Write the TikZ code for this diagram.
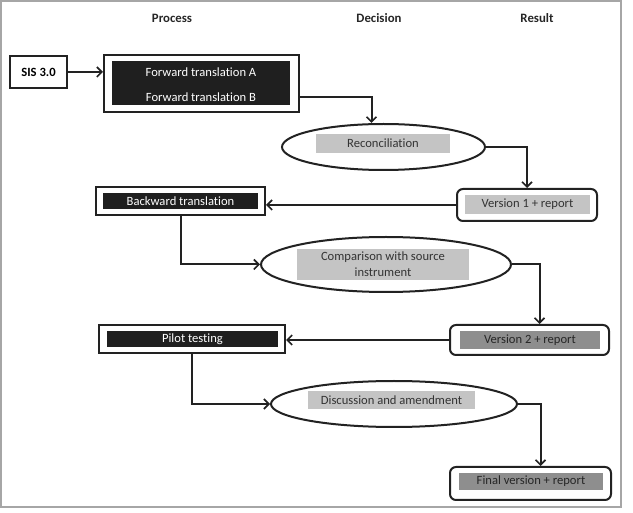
\documentclass[tikz,border=0pt]{standalone}
\usepackage{fontspec}
\setmainfont{Carlito}[Ligatures=NoCommon]
\usetikzlibrary{arrows.meta,shapes.geometric,calc}
\definecolor{lightg}{HTML}{C4C4C4}
\definecolor{darkg}{HTML}{8E8E8E}
\definecolor{linec}{HTML}{222222}
\tikzset{
  txt/.style={font=\fontsize{12.6}{14}\selectfont},
  outerbox/.style={draw=linec,line width=2pt,fill=white,inner sep=0pt},
  blackbar/.style={fill=black!88,text=white,inner sep=0pt,txt},
  graybar/.style={fill=lightg,text=black!80,inner sep=0pt,txt,align=center},
  dgraybar/.style={fill=darkg,text=black!85,inner sep=0pt,txt},
  oval/.style={ellipse,draw=linec,line width=2pt,fill=white,inner sep=0pt},
  rbox/.style={draw=linec,line width=2pt,rounded corners=6pt,fill=white,inner sep=0pt},
  arr/.style={draw=linec,line width=2pt,-{Straight Barb[length=5pt,width=10pt,line width=1.6pt]}},
  head/.style={font=\bfseries\fontsize{12.8}{14}\selectfont,text=black!85}
}
\begin{document}
\begin{tikzpicture}[x=1pt,y=-1pt]
\useasboundingbox (0,0) rectangle (633,513);
\draw[gray!70,line width=1.2pt] (1,1) rectangle (621,507);
% headers
\node[head] (h1) at (172,18) {Process};
\node[head] (h2) at (379,18) {Decision};
\node[head] (h3) at (537,18) {Result};
% SIS
\node[outerbox,minimum width=57pt,minimum height=32pt,font=\bfseries\fontsize{12.6}{14}\selectfont] (sis) at (38.5,72) {SIS 3.0};
% forward
\node[outerbox,minimum width=195pt,minimum height=57pt] (fwdout) at (201.5,83.5) {};
\node[blackbar,minimum width=178pt,minimum height=44pt] (fwdin) at (201,83) {};
\node[text=white,txt] (fwdA) at (201,72) {Forward translation A};
\node[text=white,txt] (fwdB) at (201,97) {Forward translation B};
% reconciliation
\node[oval,minimum width=203pt,minimum height=46pt] (recon) at (383.5,147) {};
\node[graybar,minimum width=134pt,minimum height=19pt] (reconl) at (383,143.5) {Reconciliation};
% version 1
\node[rbox,minimum width=140pt,minimum height=32pt] (v1) at (527,205) {};
\node[graybar,minimum width=125pt,minimum height=19pt] (v1l) at (527.5,204.5) {Version 1 + report};
% backward
\node[outerbox,minimum width=169pt,minimum height=28pt] (backout) at (180.5,201) {};
\node[blackbar,minimum width=155pt,minimum height=16pt] (backin) at (180.5,201) {Backward translation};
% comparison
\node[oval,minimum width=250pt,minimum height=55pt] (comp) at (386,264.5) {};
\node[graybar,minimum width=172pt,minimum height=31pt,font=\fontsize{12.6}{16}\selectfont] (compl) at (383,264.5) {Comparison with source\\instrument};
% version 2
\node[rbox,minimum width=159pt,minimum height=30pt] (v2) at (529.5,340) {};
\node[dgraybar,minimum width=140pt,minimum height=18pt] (v2l) at (530,340) {Version 2 + report};
% pilot
\node[outerbox,minimum width=186pt,minimum height=28pt] (pilotout) at (192,339) {};
\node[blackbar,minimum width=171pt,minimum height=16pt] (pilotin) at (192.5,339) {Pilot testing};
% discussion
\node[oval,minimum width=246pt,minimum height=46pt] (disc) at (394,404) {};
\node[graybar,minimum width=167pt,minimum height=18pt] (discl) at (391.5,400) {Discussion and amendment};
% final
\node[rbox,minimum width=161pt,minimum height=33pt] (final) at (530.5,483.5) {};
\node[dgraybar,minimum width=144pt,minimum height=17pt] (finall) at (531,481.5) {Final version + report};
% connectors
\draw[arr] (sis.east) -- (sis.east -| fwdout.west);
\draw[arr] (fwdout.east |- fwdB) -| ([xshift=-12pt]recon.north);
\draw[arr] (recon.east) -| (v1.north);
\draw[arr] (v1.west) -- (v1.west -| backout.east);
\draw[arr] (backout.south) |- (comp.west);
\draw[arr] (comp.east) -| ([xshift=10pt]v2.north);
\draw[arr] (v2.west) -- (v2.west -| pilotout.east);
\draw[arr] (pilotout.south) |- (disc.west);
\draw[arr] (disc.east) -| ([xshift=10pt]final.north);
\end{tikzpicture}
\end{document}
